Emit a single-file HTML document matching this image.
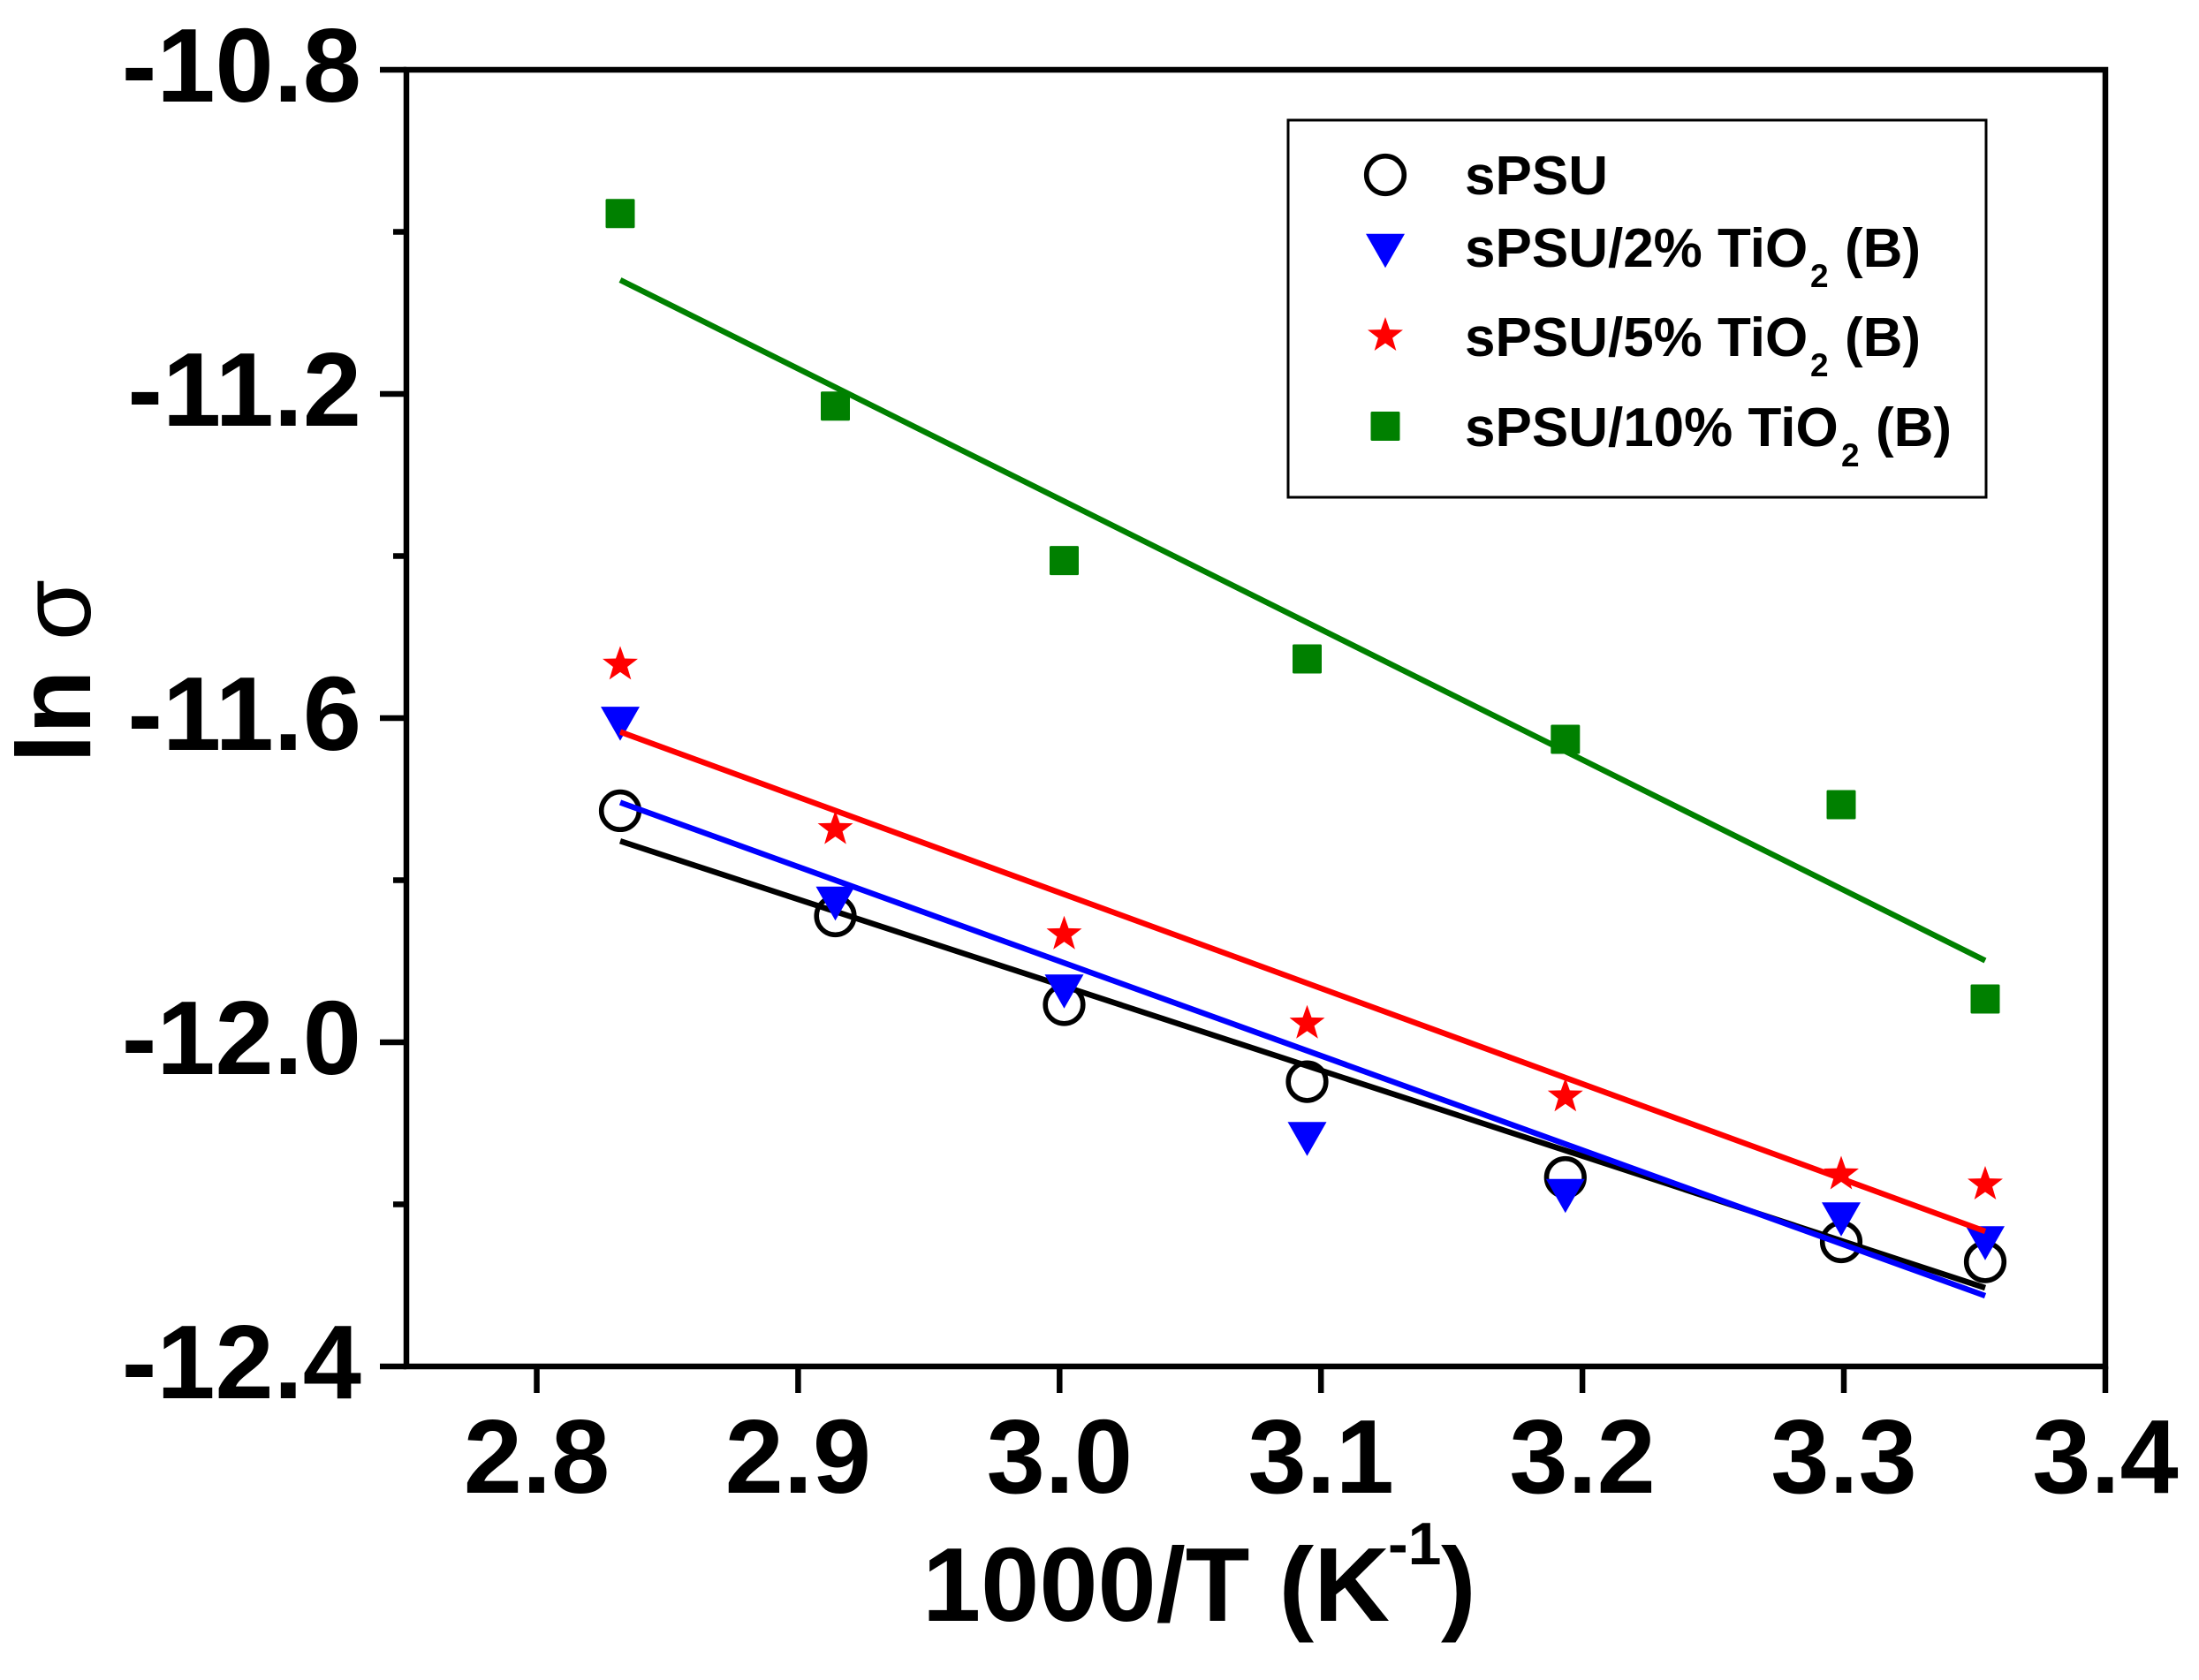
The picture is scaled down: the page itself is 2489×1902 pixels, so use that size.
<!DOCTYPE html>
<html>
<head>
<meta charset="utf-8">
<style>
html,body{margin:0;padding:0;background:#fff;}
svg{display:block;}
text{font-family:"Liberation Sans",Arial,sans-serif;}
</style>
</head>
<body>
<svg width="2489" height="1902" viewBox="0 0 2489 1902" xmlns="http://www.w3.org/2000/svg">
<defs>
<path id="star" d="M0,-21 L5,-6.88 L19.97,-6.49 L8.08,2.63 L12.34,16.99 L0,8.5 L-12.34,16.99 L-8.08,2.63 L-19.97,-6.49 L-5,-6.88 Z" fill="#ff0000"/>
<path id="tri" d="M-22,-19.25 L22,-19.25 L0,19.25 Z" fill="#0000ff"/>
<rect id="sq" x="-16.5" y="-16.5" width="33" height="33" rx="1.5" fill="#008000"/>
<circle id="circ" cx="0" cy="0" r="21.3" fill="none" stroke="#000" stroke-width="5.6"/>
</defs>
<rect x="0" y="0" width="2489" height="1902" fill="#fff"/>

<!-- frame -->
<rect x="460" y="79" width="1923" height="1468" fill="none" stroke="#000" stroke-width="6.5"/>

<!-- y ticks -->
<g stroke="#000" stroke-width="6.5">
<line x1="430" y1="79" x2="460" y2="79"/>
<line x1="430" y1="446" x2="460" y2="446"/>
<line x1="430" y1="813" x2="460" y2="813"/>
<line x1="430" y1="1180" x2="460" y2="1180"/>
<line x1="430" y1="1547" x2="460" y2="1547"/>
<line x1="445" y1="262.5" x2="460" y2="262.5"/>
<line x1="445" y1="629.5" x2="460" y2="629.5"/>
<line x1="445" y1="996.5" x2="460" y2="996.5"/>
<line x1="445" y1="1363.5" x2="460" y2="1363.5"/>
<!-- x ticks -->
<line x1="607.5" y1="1547" x2="607.5" y2="1577"/>
<line x1="903.4" y1="1547" x2="903.4" y2="1577"/>
<line x1="1199.3" y1="1547" x2="1199.3" y2="1577"/>
<line x1="1495.2" y1="1547" x2="1495.2" y2="1577"/>
<line x1="1791.1" y1="1547" x2="1791.1" y2="1577"/>
<line x1="2087" y1="1547" x2="2087" y2="1577"/>
<line x1="2383" y1="1547" x2="2383" y2="1577"/>
</g>

<!-- y tick labels -->
<g font-size="119" font-weight="bold" text-anchor="end" fill="#000">
<text x="409" y="115">-10.8</text>
<text x="409" y="482">-11.2</text>
<text x="409" y="849">-11.6</text>
<text x="409" y="1216">-12.0</text>
<text x="409" y="1583">-12.4</text>
</g>
<!-- x tick labels -->
<g font-size="119" font-weight="bold" text-anchor="middle" fill="#000">
<text x="607.5" y="1690">2.8</text>
<text x="903.4" y="1690">2.9</text>
<text x="1199.3" y="1690">3.0</text>
<text x="1495.2" y="1690">3.1</text>
<text x="1791.1" y="1690">3.2</text>
<text x="2087" y="1690">3.3</text>
<text x="2383" y="1690">3.4</text>
</g>

<!-- axis titles -->
<text x="1044" y="1835" font-size="119" font-weight="bold">1000/T (K</text>
<text x="1571" y="1771" font-size="68" font-weight="bold">-1</text>
<text x="1631" y="1835" font-size="119" font-weight="bold">)</text>
<text transform="translate(102,864) rotate(-90)" font-size="119" font-weight="bold">ln <tspan font-weight="normal" font-size="112">σ</tspan></text>

<!-- black series -->
<line x1="702" y1="952.2" x2="2247" y2="1458" stroke="#000" stroke-width="6.5"/>
<use href="#circ" x="702" y="917.9"/>
<use href="#circ" x="945.5" y="1037"/>
<use href="#circ" x="1204.5" y="1137.5"/>
<use href="#circ" x="1479.5" y="1224.6"/>
<use href="#circ" x="1771.8" y="1333"/>
<use href="#circ" x="2084" y="1406"/>
<use href="#circ" x="2247" y="1428.6"/>

<!-- blue series -->
<line x1="702" y1="908.5" x2="2247" y2="1467" stroke="#0000ff" stroke-width="6.5"/>
<use href="#tri" x="702" y="819.4"/>
<use href="#tri" x="945.5" y="1023"/>
<use href="#tri" x="1204.5" y="1122.5"/>
<use href="#tri" x="1479.5" y="1289.5"/>
<use href="#tri" x="1771.8" y="1354"/>
<use href="#tri" x="2084" y="1380.5"/>
<use href="#tri" x="2247" y="1407.5"/>

<!-- red series -->
<line x1="702" y1="828.6" x2="2247" y2="1394" stroke="#ff0000" stroke-width="6.5"/>
<use href="#star" x="702" y="752.4"/>
<use href="#star" x="945.5" y="938.6"/>
<use href="#star" x="1204.5" y="1057.8"/>
<use href="#star" x="1479.5" y="1158.7"/>
<use href="#star" x="1771.8" y="1241.3"/>
<use href="#star" x="2084" y="1329.5"/>
<use href="#star" x="2247" y="1341"/>

<!-- green series -->
<line x1="702" y1="317" x2="2247" y2="1087.5" stroke="#008000" stroke-width="6.5"/>
<use href="#sq" x="702" y="241.8"/>
<use href="#sq" x="945.5" y="459.7"/>
<use href="#sq" x="1204.5" y="634.6"/>
<use href="#sq" x="1479.5" y="746"/>
<use href="#sq" x="1771.8" y="837"/>
<use href="#sq" x="2084" y="911"/>
<use href="#sq" x="2247" y="1131"/>

<!-- legend -->
<rect x="1458" y="136" width="790" height="427" fill="#fff" stroke="#000" stroke-width="3"/>
<use href="#circ" x="1568" y="198"/>
<use href="#tri" x="1568" y="284"/>
<use href="#star" x="1568" y="380"/>
<use href="#sq" x="1568" y="482.5"/>
<g font-size="62" font-weight="bold" fill="#000">
<text x="1658" y="220">sPSU</text>
<text x="1658" y="302">sPSU/2% TiO</text>
<text x="2049" y="325" font-size="37">2</text>
<text x="2088" y="302">(B)</text>
<text x="1658" y="403">sPSU/5% TiO</text>
<text x="2049" y="426" font-size="37">2</text>
<text x="2088" y="403">(B)</text>
<text x="1658" y="505">sPSU/10% TiO</text>
<text x="2084" y="528" font-size="37">2</text>
<text x="2123" y="505">(B)</text>
</g>
</svg>
</body>
</html>
